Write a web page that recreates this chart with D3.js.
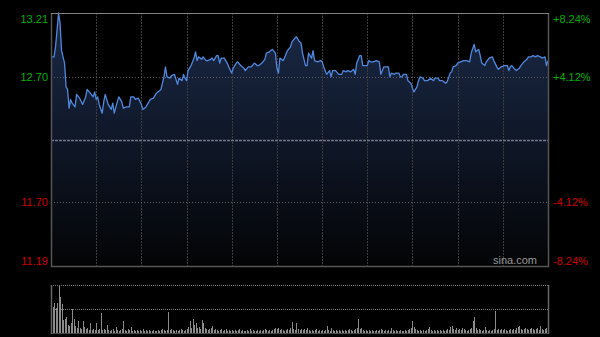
<!DOCTYPE html>
<html>
<head>
<meta charset="utf-8">
<script src="https://cdn.jsdelivr.net/npm/d3@7/dist/d3.min.js"></script>
<style>
  html, body { margin: 0; padding: 0; background: #000; }
  svg { display: block; }
</style>
</head>
<body>
<svg id="chart" width="600" height="337"></svg>
<script>
// minute offsets from the open (HK session, 330 minutes) and the price at each
const minutes = [
  0, 2, 3, 4, 5, 6, 7, 9, 10, 11, 12, 13, 14, 16, 17, 19, 21, 23, 24, 26,
  28, 29, 30, 31, 32, 34, 35, 36, 38, 40, 41, 42, 44, 45, 47, 48, 50, 52, 53, 55,
  56, 58, 60, 61, 63, 65, 66, 68, 70, 71, 73, 75, 76, 77, 79, 80, 82, 84, 85, 87,
  88, 89, 90, 91, 93, 95, 96, 97, 98, 100, 101, 103, 104, 106, 107, 108, 110, 111, 112, 113,
  115, 117, 118, 120, 121, 123, 124, 126, 128, 129, 131, 133, 135, 137, 138, 140, 142, 143, 145, 147,
  149, 150, 151, 152, 154, 155, 157, 159, 160, 162, 163, 165, 166, 167, 169, 170, 171, 173, 174, 175,
  177, 179, 180, 182, 183, 185, 186, 187, 189, 191, 193, 194, 196, 197, 199, 201, 202, 203, 205, 206,
  207, 208, 210, 211, 212, 214, 216, 218, 219, 221, 222, 224, 225, 226, 228, 229, 231, 232, 233, 234,
  236, 237, 239, 240, 241, 243, 244, 245, 247, 248, 250, 252, 254, 255, 257, 258, 260, 262, 263, 265,
  266, 267, 269, 270, 272, 274, 275, 276, 278, 279, 281, 282, 284, 285, 286, 288, 289, 291, 293, 294,
  296, 297, 299, 301, 303, 304, 305, 306, 308, 309, 311, 312, 314, 316, 317, 319, 320, 322, 323, 325,
  326, 328, 329, 330
];
const prices = [
  12.86, 12.86, 12.94, 13.07, 13.21, 13.13, 12.91, 12.81, 12.62, 12.60, 12.45, 12.52, 12.49, 12.46, 12.56, 12.53, 12.48, 12.54, 12.60, 12.57,
  12.54, 12.58, 12.52, 12.54, 12.48, 12.41, 12.50, 12.56, 12.48, 12.44, 12.49, 12.41, 12.50, 12.54, 12.50, 12.45, 12.46, 12.46, 12.54, 12.54,
  12.52, 12.53, 12.48, 12.44, 12.46, 12.50, 12.52, 12.53, 12.57, 12.58, 12.60, 12.70, 12.78, 12.70, 12.69, 12.71, 12.72, 12.64, 12.69, 12.67,
  12.72, 12.69, 12.67, 12.75, 12.79, 12.85, 12.90, 12.83, 12.86, 12.84, 12.86, 12.83, 12.83, 12.84, 12.85, 12.83, 12.87, 12.87, 12.81, 12.85,
  12.85, 12.81, 12.78, 12.73, 12.77, 12.81, 12.82, 12.79, 12.77, 12.75, 12.78, 12.78, 12.81, 12.79, 12.79, 12.81, 12.84, 12.89, 12.90, 12.92,
  12.89, 12.77, 12.73, 12.85, 12.83, 12.85, 12.91, 12.94, 12.98, 13.01, 13.02, 12.98, 12.97, 12.89, 12.79, 12.79, 12.89, 12.85, 12.91, 12.83,
  12.82, 12.83, 12.82, 12.75, 12.72, 12.75, 12.70, 12.75, 12.75, 12.72, 12.72, 12.75, 12.74, 12.75, 12.74, 12.76, 12.72, 12.81, 12.87, 12.87,
  12.79, 12.79, 12.79, 12.83, 12.82, 12.82, 12.83, 12.82, 12.72, 12.78, 12.78, 12.78, 12.70, 12.73, 12.72, 12.73, 12.73, 12.70, 12.70, 12.72,
  12.72, 12.67, 12.65, 12.61, 12.58, 12.62, 12.67, 12.70, 12.69, 12.67, 12.67, 12.69, 12.67, 12.69, 12.69, 12.67, 12.67, 12.65, 12.66, 12.73,
  12.74, 12.78, 12.79, 12.81, 12.82, 12.83, 12.83, 12.83, 12.82, 12.89, 12.96, 12.90, 12.92, 12.87, 12.81, 12.79, 12.82, 12.85, 12.86, 12.83,
  12.78, 12.76, 12.78, 12.79, 12.79, 12.75, 12.78, 12.79, 12.76, 12.75, 12.77, 12.79, 12.82, 12.84, 12.86, 12.86, 12.87, 12.86, 12.87, 12.86,
  12.85, 12.86, 12.79, 12.83
];
// volume per minute, one bar each (relative units)
const volumes = [
  28, 26, 30, 25, 30, 48, 36, 29, 13, 14, 16, 8, 7, 10, 24, 14, 7, 5, 12, 5, 4, 12, 6, 4, 5, 3, 10, 3, 4, 3,
  10, 3, 4, 20, 3, 4, 3, 8, 3, 2, 3, 4, 2, 6, 3, 2, 3, 4, 12, 3, 2, 4, 3, 6, 2, 3, 2, 3, 2, 3,
  2, 4, 2, 3, 2, 3, 2, 2, 3, 2, 2, 3, 2, 3, 4, 3, 2, 3, 21, 3, 4, 3, 2, 3, 2, 3, 4, 3, 2, 3,
  4, 6, 12, 5, 14, 8, 10, 5, 6, 4, 13, 10, 5, 4, 3, 4, 5, 7, 3, 4, 3, 2, 3, 4, 2, 3, 4, 2, 3, 2,
  3, 2, 3, 2, 3, 4, 2, 3, 2, 2, 3, 2, 4, 2, 3, 2, 2, 3, 2, 3, 2, 3, 4, 3, 2, 3, 2, 3, 4, 5,
  4, 5, 3, 4, 3, 2, 3, 4, 3, 5, 11, 4, 3, 10, 4, 3, 4, 3, 4, 3, 5, 3, 2, 3, 2, 3, 4, 2, 3, 2,
  3, 2, 3, 7, 3, 2, 5, 3, 2, 3, 2, 3, 2, 3, 2, 3, 2, 3, 4, 3, 2, 3, 4, 5, 14, 4, 5, 3, 2, 3,
  2, 3, 2, 3, 2, 2, 3, 2, 3, 4, 3, 2, 3, 2, 3, 2, 5, 3, 2, 3, 2, 2, 3, 2, 2, 3, 2, 3, 4, 5,
  12, 6, 4, 3, 2, 3, 2, 3, 2, 3, 4, 6, 3, 2, 3, 2, 3, 2, 3, 2, 3, 2, 3, 4, 3, 6, 7, 4, 3, 5,
  3, 4, 3, 5, 4, 3, 2, 3, 4, 5, 12, 16, 5, 3, 4, 3, 2, 3, 6, 3, 2, 3, 2, 3, 4, 22, 3, 4, 3, 4,
  3, 4, 3, 2, 3, 4, 3, 4, 3, 5, 6, 7, 4, 3, 4, 5, 4, 3, 4, 5, 4, 3, 4, 5, 3, 7, 4, 3, 4, 5, 4
];
const priceTicks = [13.21, 12.70, 12.20, 11.70, 11.19];
const pctLabels = ['+8.24%', '+4.12%', '', '-4.12%', '-8.24%'];
const prevClose = 12.20;
const sessionMinutes = 330;

const svg = d3.select('#chart');
const plotLeft = 51, plotRight = 548, plotTop = 13, plotBottom = 266;
const volTop = 285, volBottom = 333;

const x = d3.scaleLinear().domain([0, sessionMinutes]).range([plotLeft, plotRight]);
const y = d3.scaleLinear().domain([priceTicks[4], priceTicks[0]]).range([plotBottom, plotTop]);
const yVol = d3.scaleLinear().domain([0, d3.max(volumes)]).range([volBottom, volTop]);

const pts = minutes.map((m, i) => ({m: m, p: prices[i]}));

let defs = svg.append('defs');
let grad = defs.append('linearGradient')
  .attr('id', 'fillGrad')
  .attr('gradientUnits', 'userSpaceOnUse')
  .attr('x1', 0).attr('y1', plotTop).attr('x2', 0).attr('y2', plotBottom);
grad.append('stop').attr('offset', '0%').attr('stop-color', '#1b2a48');
grad.append('stop').attr('offset', '50%').attr('stop-color', '#0f1728');
grad.append('stop').attr('offset', '100%').attr('stop-color', '#030405');

// area under the price line
svg.append('path')
  .datum(pts)
  .attr('fill', 'url(#fillGrad)')
  .attr('d', d3.area().x(d => x(d.m)).y0(plotBottom).y1(d => y(d.p)));

// vertical grid, every 30 minutes
let vTicks = d3.range(30, sessionMinutes, 30);
svg.append('g').selectAll('line').data(vTicks).join('line')
  .attr('x1', d => Math.round(x(d)) + 0.5).attr('x2', d => Math.round(x(d)) + 0.5)
  .attr('y1', plotTop).attr('y2', plotBottom)
  .attr('stroke', '#3c3c3c').attr('stroke-dasharray', '2,1');

// horizontal grid
svg.append('g').selectAll('line').data([priceTicks[1], priceTicks[3]]).join('line')
  .attr('x1', plotLeft).attr('x2', plotRight)
  .attr('y1', d => Math.round(y(d)) + 0.5).attr('y2', d => Math.round(y(d)) + 0.5)
  .attr('stroke', '#5e5e5e').attr('stroke-dasharray', '1,2');
svg.append('line')
  .attr('x1', plotLeft).attr('x2', plotRight)
  .attr('y1', Math.round(y(prevClose)) + 0.5).attr('y2', Math.round(y(prevClose)) + 0.5)
  .attr('stroke', '#6f7888').attr('stroke-width', 1.3).attr('stroke-dasharray', '3,1');

svg.append('path')
  .datum(pts)
  .attr('fill', 'none')
  .attr('stroke', '#5088de')
  .attr('stroke-width', 1.3)
  .attr('stroke-linejoin', 'round')
  .attr('d', d3.line().x(d => x(d.m)).y(d => y(d.p)));

// frame
svg.append('path')
  .attr('d', `M${plotLeft + 0.5},${plotTop} V${plotBottom + 0.5} H${plotRight + 0.5} V${plotTop}`)
  .attr('fill', 'none').attr('stroke', '#555').attr('stroke-width', 1.5);
svg.append('line')
  .attr('x1', plotLeft).attr('x2', plotRight + 1).attr('y1', plotTop + 0.5).attr('y2', plotTop + 0.5)
  .attr('stroke', '#808080');

// price labels, left and right
function labelY(d) {
  if (d === priceTicks[0]) return y(d) + 10;
  if (d === priceTicks[4]) return y(d) - 1;
  return y(d) + 4;
}
const sideTicks = priceTicks.filter(d => d !== prevClose);

svg.append('g').selectAll('text').data(sideTicks).join('text')
  .attr('x', 48)
  .attr('y', labelY)
  .attr('text-anchor', 'end')
  .attr('font-family', 'Liberation Sans, Arial, sans-serif')
  .attr('font-size', 11)
  .attr('fill', d => d > prevClose ? '#00b000' : '#d00000')
  .text(d => d.toFixed(2));

svg.append('g').selectAll('text').data(sideTicks).join('text')
  .attr('x', 553)
  .attr('y', labelY)
  .attr('font-family', 'Liberation Sans, Arial, sans-serif')
  .attr('font-size', 11)
  .attr('fill', d => d > prevClose ? '#00b000' : '#d00000')
  .text(d => pctLabels[priceTicks.indexOf(d)]);

svg.append('text')
  .attr('x', 537).attr('y', 264)
  .attr('text-anchor', 'end')
  .attr('font-family', 'Liberation Sans, Arial, sans-serif')
  .attr('font-size', 11)
  .attr('fill', '#999')
  .text('sina.com');

// volume panel
svg.append('g').selectAll('line').data([volTop, (volTop + volBottom) / 2]).join('line')
  .attr('x1', plotLeft).attr('x2', plotRight)
  .attr('y1', d => d + 0.5).attr('y2', d => d + 0.5)
  .attr('stroke', '#777').attr('stroke-dasharray', '1,1');

svg.append('g').selectAll('line').data(volumes).join('line')
  .attr('x1', (d, i) => Math.round(x(i)) + 0.5).attr('x2', (d, i) => Math.round(x(i)) + 0.5)
  .attr('y1', volBottom).attr('y2', d => yVol(d))
  .attr('stroke', '#8a8a8a');

svg.append('line')
  .attr('x1', plotLeft).attr('x2', plotRight + 1).attr('y1', volBottom + 0.5).attr('y2', volBottom + 0.5)
  .attr('stroke', '#444');
svg.append('g').selectAll('line').data([plotLeft, plotRight]).join('line')
  .attr('x1', d => d + 0.5).attr('x2', d => d + 0.5)
  .attr('y1', volTop).attr('y2', volBottom + 1)
  .attr('stroke', '#666').attr('stroke-width', 1.5);
</script>
</body>
</html>
